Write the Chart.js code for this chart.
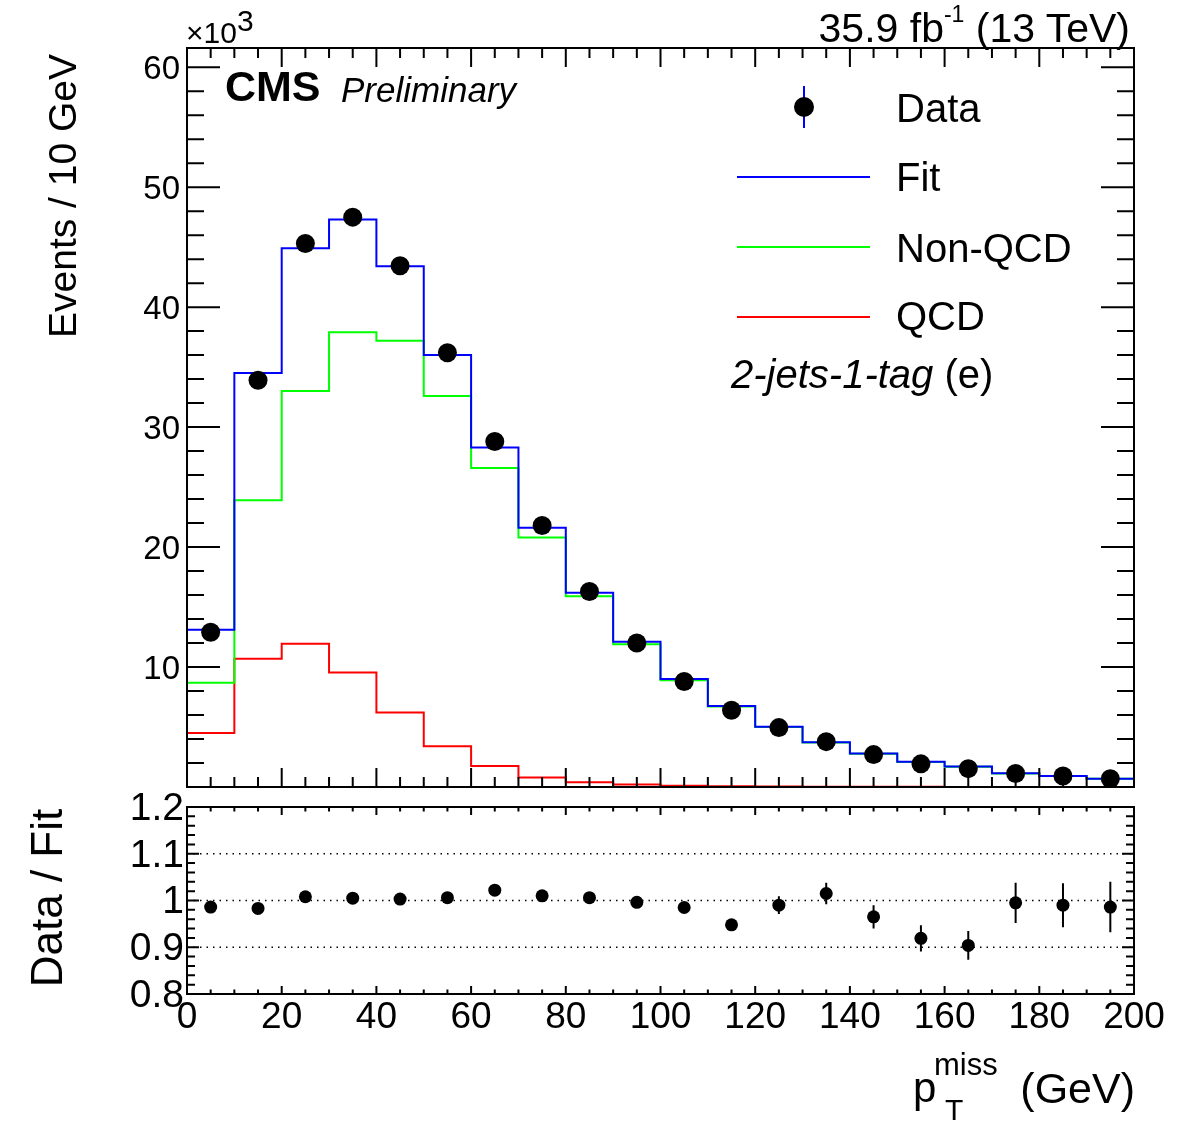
<!DOCTYPE html>
<html lang="en">
<head>
  <meta charset="UTF-8" />
  <title>Missing pT fit - 2-jets-1-tag (e)</title>
  <script src="https://cdn.jsdelivr.net/npm/chart.js"></script>
  <style>
    body {
      margin: 0;
      background: #fff;
      color: #000;
      font-family: 'Liberation Sans', Arial, Helvetica, sans-serif;
    }
    .page { position: relative; width: 1182px; height: 1130px; overflow: hidden; }
    canvas { position: absolute; left: 0; }
    #topChart { top: 0; }
    #ratioChart { top: 770px; }
    .txt { position: absolute; line-height: 1; white-space: nowrap; }
    .rot { transform-origin: 0 0; transform: rotate(-90deg); }
    .leg-line { position: absolute; left: 737px; width: 133px; height: 2px; }
  </style>
</head>
<body>
<div class="page">
  <canvas id="topChart" width="1182" height="840"></canvas>
  <canvas id="ratioChart" width="1182" height="360"></canvas>

  <!-- labels -->
  <div class="txt" style="left:186px; top:18px; font-size:30px;">&times;10<span style="position:relative; top:-12px;">3</span></div>
  <div class="txt" style="right:52px; top:8px; font-size:41px;">35.9 fb<span style="font-size:23px; position:relative; top:-20px;">-1</span> (13 TeV)</div>
  <div class="txt" style="left:225px; top:65px; font-size:43px; font-weight:bold;">CMS</div>
  <div class="txt" style="left:341px; top:72px; font-size:35px; font-style:italic;">Preliminary</div>

  <!-- legend -->
  <div style="position:absolute; left:803px; top:86px; width:2px; height:42px; background:#0000ff;"></div>
  <div style="position:absolute; left:794px; top:97px; width:20px; height:20px; border-radius:50%; background:#000;"></div>
  <div class="leg-line" style="top:176px; background:#0000ff;"></div>
  <div class="leg-line" style="top:246px; background:#00ff00;"></div>
  <div class="leg-line" style="top:316px; background:#ff0000;"></div>
  <div class="txt" style="left:896px; top:88px; font-size:40px;">Data</div>
  <div class="txt" style="left:896px; top:157px; font-size:40px;">Fit</div>
  <div class="txt" style="left:896px; top:228px; font-size:40px;">Non-QCD</div>
  <div class="txt" style="left:896px; top:296px; font-size:40px;">QCD</div>
  <div class="txt" style="left:731px; top:354px; font-size:40px;"><i>2-jets-1-tag</i> (e)</div>

  <!-- axis titles -->
  <div class="txt rot" style="left:43px; top:454px; width:400px; text-align:right; font-size:39px;">Events / 10 GeV</div>
  <div class="txt rot" style="left:25px; top:1048px; width:300px; text-align:center; font-size:44px;">Data / Fit</div>
  <div class="txt" style="left:913px; top:1067px; font-size:42px;">p</div>
  <div class="txt" style="left:934px; top:1049px; font-size:31px;">miss</div>
  <div class="txt" style="left:945px; top:1095px; font-size:30px;">T</div>
  <div class="txt" style="right:47px; top:1067px; font-size:43px;">(GeV)</div>
</div>

<script>
  // bins of 10 GeV
  const binLow = [0, 10, 20, 30, 40, 50, 60, 70, 80, 90, 100, 110, 120, 130, 140, 150, 160, 170, 180, 190];
  const binCenter = [5, 15, 25, 35, 45, 55, 65, 75, 85, 95, 105, 115, 125, 135, 145, 155, 165, 175, 185, 195];
  const xMax = 200;

  // events (x10^3)
  const dataVals = [12.9, 33.9, 45.3, 47.5, 43.45, 36.2, 28.8, 21.8, 16.3, 12.0, 8.8, 6.4, 4.95, 3.78, 2.7, 1.93, 1.53, 1.13, 0.91, 0.68];
  const fitVals = [13.1, 34.5, 44.9, 47.3, 43.4, 36.0, 28.3, 21.6, 16.2, 12.1, 9.0, 6.75, 5.03, 3.72, 2.8, 2.1, 1.7, 1.14, 0.92, 0.69];
  const nonQcdVals = [8.7, 23.9, 33.0, 37.9, 37.2, 32.6, 26.6, 20.8, 15.9, 11.9, 8.9, 6.7, 5.0, 3.7, 2.78, 2.08, 1.69, 1.13, 0.91, 0.68];
  const qcdVals = [4.5, 10.7, 11.95, 9.55, 6.2, 3.4, 1.75, 0.8, 0.4, 0.2, 0.1, 0.06, 0.04, 0.03, 0.02, 0.02, 0.01, 0.01, 0.01, 0.01];

  // data / fit
  const ratioVals = [0.986, 0.983, 1.008, 1.005, 1.003, 1.006, 1.022, 1.010, 1.006, 0.996, 0.985, 0.948, 0.990, 1.015, 0.965, 0.919, 0.904, 0.995, 0.990, 0.986];
  const ratioErr = [0.003, 0.003, 0.003, 0.003, 0.003, 0.004, 0.004, 0.005, 0.006, 0.007, 0.009, 0.011, 0.019, 0.023, 0.025, 0.028, 0.031, 0.043, 0.047, 0.054];
  const refLines = [0.9, 1.0, 1.1];

  // axes
  const mainTicks = [10, 20, 30, 40, 50, 60];
  const ratioTicks = [0.8, 0.9, 1.0, 1.1, 1.2];
  const ratioTickLabels = ['0.8', '0.9', '1', '1.1', '1.2'];
  const xTicks = [0, 20, 40, 60, 80, 100, 120, 140, 160, 180, 200];

  const fontFamily = "'Liberation Sans', Arial, Helvetica, sans-serif";
  Chart.defaults.font.family = fontFamily;
  Chart.defaults.color = '#000';

  function steps(vals) {
    const pts = binLow.map((x, i) => ({ x: x, y: vals[i] }));
    pts.push({ x: xMax, y: vals[vals.length - 1] });
    return pts;
  }

  function histo(vals, color, order) {
    return {
      data: steps(vals),
      showLine: true,
      stepped: true,
      borderColor: color,
      borderWidth: 2,
      pointRadius: 0,
      fill: false,
      order: order
    };
  }

  // ROOT style frame with inward ticks on all four sides
  const rootFrame = {
    id: 'rootFrame',
    afterDraw(chart, args, o) {
      const { ctx, chartArea: a } = chart;
      const x = chart.scales.x, y = chart.scales.y;
      ctx.save();
      ctx.strokeStyle = '#000';
      ctx.lineWidth = o.tickWidth;
      ctx.beginPath();
      const nx = Math.round((x.max - x.min) / o.xMinor);
      for (let i = 0; i <= nx; i++) {
        const v = x.min + i * o.xMinor;
        const px = x.getPixelForValue(v);
        const r = v / o.xMajor;
        const len = Math.abs(r - Math.round(r)) < 1e-6 ? o.xMajorLen : o.xMinorLen;
        ctx.moveTo(px, a.bottom); ctx.lineTo(px, a.bottom - len);
        ctx.moveTo(px, a.top); ctx.lineTo(px, a.top + len);
      }
      for (let i = 0; ; i++) {
        const v = y.min + i * o.yMinor;
        if (v > y.max + 1e-9) break;
        const py = y.getPixelForValue(v);
        const r = (v - y.min) / o.yMajor;
        const len = Math.abs(r - Math.round(r)) < 1e-6 ? o.yMajorLen : o.yMinorLen;
        ctx.moveTo(a.left, py); ctx.lineTo(a.left + len, py);
        ctx.moveTo(a.right, py); ctx.lineTo(a.right - len, py);
      }
      ctx.stroke();
      ctx.lineWidth = o.frameWidth;
      ctx.strokeRect(a.left, a.top, a.right - a.left, a.bottom - a.top);
      ctx.restore();
    }
  };

  // vertical error bars for the ratio points
  const errorBars = {
    id: 'errorBars',
    beforeDatasetsDraw(chart, args, o) {
      if (!o.errors) return;
      const { ctx } = chart;
      const x = chart.scales.x, y = chart.scales.y;
      ctx.save();
      ctx.strokeStyle = '#000';
      ctx.lineWidth = 2;
      ctx.beginPath();
      o.centers.forEach((c, i) => {
        const px = x.getPixelForValue(c);
        ctx.moveTo(px, y.getPixelForValue(o.values[i] - o.errors[i]));
        ctx.lineTo(px, y.getPixelForValue(o.values[i] + o.errors[i]));
      });
      ctx.stroke();
      ctx.restore();
    }
  };

  const topChart = new Chart(document.getElementById('topChart'), {
    type: 'scatter',
    data: {
      datasets: [
        {
          data: binCenter.map((x, i) => ({ x: x, y: dataVals[i] })),
          backgroundColor: '#000',
          borderColor: '#000',
          pointRadius: 9.5,
          pointBorderWidth: 0,
          order: 1
        },
        histo(fitVals, '#0000ff', 2),
        histo(nonQcdVals, '#00ff00', 3),
        histo(qcdVals, '#ff0000', 4)
      ]
    },
    options: {
      responsive: false,
      animation: false,
      events: [],
      layout: { padding: { left: 0, top: 48, right: 48, bottom: 53 } },
      plugins: {
        legend: { display: false },
        tooltip: { enabled: false },
        rootFrame: {
          xMajor: 20, xMinor: 5, xMajorLen: 19, xMinorLen: 10,
          yMajor: 10, yMinor: 2, yMajorLen: 33, yMinorLen: 17,
          tickWidth: 2, frameWidth: 2
        }
      },
      scales: {
        x: { type: 'linear', min: 0, max: xMax, display: false },
        y: {
          min: 0,
          max: 61.6,
          afterBuildTicks: s => { s.ticks = mainTicks.map(v => ({ value: v })); },
          afterFit: s => { s.width = 187; },
          grid: { display: false, drawTicks: false },
          border: { display: false },
          ticks: { font: { size: 33 }, color: '#000', padding: 7, labelOffset: 3, autoSkip: false }
        }
      }
    },
    plugins: [rootFrame]
  });

  const ratioChart = new Chart(document.getElementById('ratioChart'), {
    type: 'scatter',
    data: {
      datasets: [
        {
          data: binCenter.map((x, i) => ({ x: x, y: ratioVals[i] })),
          backgroundColor: '#000',
          borderColor: '#000',
          pointRadius: 6.5,
          pointBorderWidth: 0,
          order: 1
        }
      ].concat(refLines.map(v => ({
        data: [{ x: 0, y: v }, { x: xMax, y: v }],
        showLine: true,
        borderColor: '#000',
        borderWidth: 1.5,
        borderDash: [1.5, 5],
        pointRadius: 0,
        order: 5
      })))
    },
    options: {
      responsive: false,
      animation: false,
      events: [],
      layout: { padding: { left: 0, top: 37, right: 48, bottom: 0 } },
      plugins: {
        legend: { display: false },
        tooltip: { enabled: false },
        rootFrame: {
          xMajor: 20, xMinor: 5, xMajorLen: 8, xMinorLen: 4.5,
          yMajor: 0.1, yMinor: 0.02, yMajorLen: 12, yMinorLen: 8,
          tickWidth: 2, frameWidth: 2
        },
        errorBars: { centers: binCenter, values: ratioVals, errors: ratioErr }
      },
      scales: {
        x: {
          type: 'linear',
          min: 0,
          max: xMax,
          afterBuildTicks: s => { s.ticks = xTicks.map(v => ({ value: v })); },
          afterFit: s => { s.height = 136; },
          grid: { display: false, drawTicks: false },
          border: { display: false },
          ticks: { font: { size: 37 }, color: '#000', padding: 2, maxRotation: 0, autoSkip: false, callback: v => String(v) }
        },
        y: {
          min: 0.8,
          max: 1.2,
          afterBuildTicks: s => { s.ticks = ratioTicks.map(v => ({ value: v })); },
          afterFit: s => { s.width = 187; },
          grid: { display: false, drawTicks: false },
          border: { display: false },
          ticks: {
            font: { size: 39 },
            color: '#000',
            padding: 3,
            labelOffset: 2,
            autoSkip: false,
            callback: (v, i) => ratioTickLabels[i]
          }
        }
      }
    },
    plugins: [rootFrame, errorBars]
  });
</script>
</body>
</html>
